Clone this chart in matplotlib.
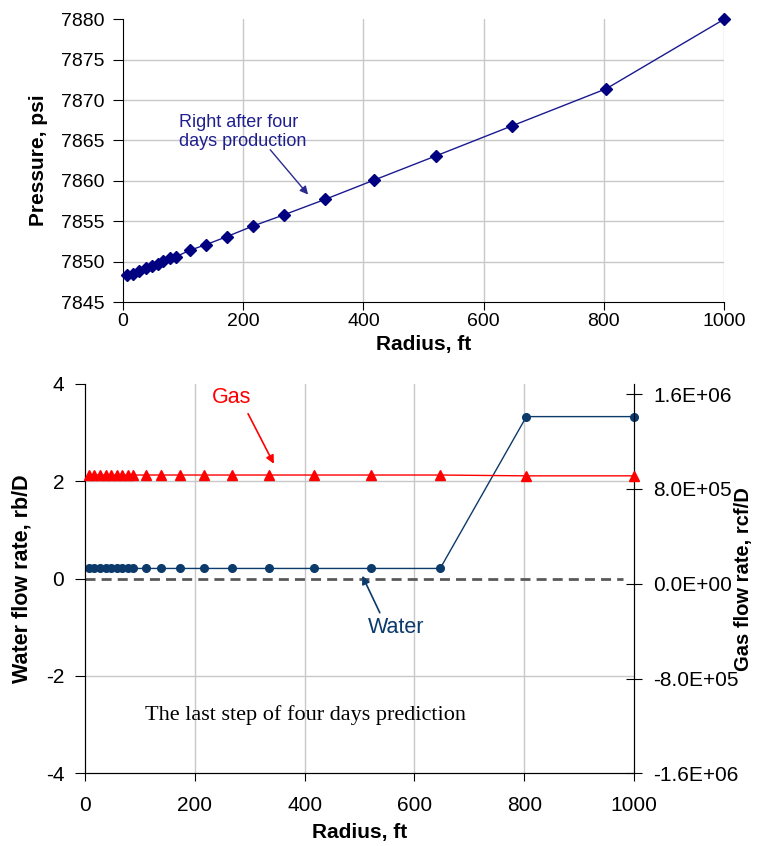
import matplotlib.pyplot as plt

plt.rcParams['font.family'] = ['Liberation Sans', 'DejaVu Sans']
plt.rcParams['axes.unicode_minus'] = False

# data
radius = [7, 17, 27, 38, 48, 58, 67, 78, 88, 111, 138, 173, 216, 268,
          336, 418, 521, 647, 804, 1000]
pressure = [7848.4, 7848.5, 7848.9, 7849.2, 7849.5, 7849.7, 7850.1, 7850.5,
            7850.6, 7851.4, 7852.1, 7853.1, 7854.4, 7855.8, 7857.7, 7860.1,
            7863.1, 7866.8, 7871.4, 7880.0]
water_rate = [0.21, 0.21, 0.21, 0.21, 0.21, 0.21, 0.21, 0.21, 0.21, 0.21,
              0.21, 0.21, 0.21, 0.21, 0.21, 0.21, 0.21, 0.21, 3.33, 3.33]
gas_rate = [9.17e5, 9.17e5, 9.17e5, 9.17e5, 9.17e5, 9.17e5, 9.17e5, 9.17e5,
            9.17e5, 9.17e5, 9.17e5, 9.17e5, 9.17e5, 9.17e5, 9.17e5, 9.17e5,
            9.17e5, 9.17e5, 9.1e5, 9.1e5]

x_ticks = [0, 200, 400, 600, 800, 1000]
p_ticks = [7845, 7850, 7855, 7860, 7865, 7870, 7875, 7880]
w_ticks = [-4, -2, 0, 2, 4]
g_ticks = [-1.6e6, -8e5, 0, 8e5, 1.6e6]
g_labels = ['-1.6E+06', '-8.0E+05', '0.0E+00', '8.0E+05', '1.6E+06']

navy = '#000080'
wblue = '#0B3A6B'
grid_c = '#C8C8C8'

fig = plt.figure(figsize=(7.61, 8.46), dpi=100)

# ---- top: pressure profile ----
ax1 = fig.add_axes([0.1616, 0.643, 0.7898, 0.3342])
ax1.plot(radius, pressure, color='#1A1A90', lw=1, marker='D', ms=6.5,
         mfc=navy, mec=navy, zorder=3, clip_on=False)
ax1.set_xlim(0, 1000)
ax1.set_ylim(7845, 7880)
ax1.set_xticks(x_ticks)
ax1.set_yticks(p_ticks)
ax1.grid(True, color=grid_c, lw=1)
ax1.get_ygridlines()[-1].set_visible(False)
ax1.get_ygridlines()[0].set_visible(False)
ax1.get_xgridlines()[0].set_visible(False)
for s in ['top', 'right']:
    ax1.spines[s].set_visible(False)
ax1.tick_params(axis='y', length=7, pad=6.5, labelsize=14)
ax1.tick_params(axis='x', length=6, pad=2, labelsize=14)
ax1.set_ylabel('Pressure, psi', fontsize=15, fontweight='bold')
ax1.yaxis.set_label_coords(-0.125, 0.5)
ax1.set_xlabel('Radius, ft', fontsize=15, fontweight='bold')
ax1.xaxis.set_label_coords(0.5, -0.115)
ax1.text(93, 7866.1, 'Right after four\ndays production', fontsize=13,
         color='#1F1F8F', ha='left', va='center', linespacing=1.15)
ax1.annotate('', xy=(308, 7858.3), xytext=(245, 7863.85),
             arrowprops=dict(arrowstyle='-|>', color='#2B2B8F', lw=1,
                             shrinkA=0, shrinkB=0, mutation_scale=12))

# ---- bottom: water and gas rates ----
ax2 = fig.add_axes([0.1117, 0.0859, 0.7214, 0.4602])
ax3 = ax2.twinx()

ax2.set_xlim(0, 1000)
ax2.set_ylim(-4, 4)
ax2.set_xticks(x_ticks)
ax2.set_yticks(w_ticks)
ax2.grid(True, color=grid_c, lw=1, zorder=0)
ax2.get_ygridlines()[-1].set_visible(False)
ax2.get_ygridlines()[0].set_visible(False)
ax2.get_ygridlines()[2].set_visible(False)
ax2.get_xgridlines()[0].set_visible(False)
ax2.get_xgridlines()[-1].set_visible(False)
ax2.axhline(0, xmax=0.98, color='#595959', lw=2, dashes=(3.6, 2.2), zorder=2)
ax2.axhspan(-3.58, -2.24, xmin=0.04, xmax=0.92, color='white', zorder=1.5)
ax2.plot(radius, water_rate, color=wblue, lw=1, marker='o', ms=5.5,
         mfc=wblue, mec=wblue, zorder=3, clip_on=False)
ax2.spines['top'].set_visible(False)
ax2.tick_params(axis='y', length=7, pad=8, labelsize=15)
ax2.tick_params(axis='x', length=6, pad=10, labelsize=15)
ax2.set_ylabel('Water flow rate, rb/D', fontsize=15.5, fontweight='bold')
ax2.yaxis.set_label_coords(-0.095, 0.5)
ax2.set_xlabel('Radius, ft', fontsize=15, fontweight='bold')
ax2.xaxis.set_label_coords(0.5, -0.128)

ax2.text(109, -2.8, 'The last step of four days prediction',
         family='Liberation Serif', fontsize=16, ha='left', va='center',
         zorder=4)
ax2.text(231, 3.72, 'Gas', fontsize=15.5, color='red', ha='left',
         va='center')
ax2.annotate('', xy=(344, 2.36), xytext=(297, 3.39),
             arrowprops=dict(arrowstyle='-|>', color='red', lw=1.2,
                             shrinkA=0, shrinkB=0, mutation_scale=12))
ax2.text(515, -1.0, 'Water', fontsize=15.5, color=wblue, ha='left',
         va='center')
ax2.annotate('', xy=(505, 0.06), xytext=(537, -0.70),
             arrowprops=dict(arrowstyle='-|>', color=wblue, lw=1.2,
                             shrinkA=0, shrinkB=0, mutation_scale=12))

ax3.plot(radius, gas_rate, color='red', lw=1, marker='^', ms=7.5,
         mfc='red', mec='red', zorder=3, clip_on=False)
ax3.set_ylim(-1.6e6, 1.685e6)
ax3.set_yticks(g_ticks)
ax3.set_yticklabels(g_labels)
ax3.spines['top'].set_visible(False)
ax3.tick_params(axis='y', direction='inout', length=12, pad=8, labelsize=15)
ax3.set_ylabel('Gas flow rate, rcf/D', fontsize=14.5, fontweight='bold')
ax3.yaxis.set_label_coords(1.183, 0.5)

fig.savefig('out.png', dpi=100)
